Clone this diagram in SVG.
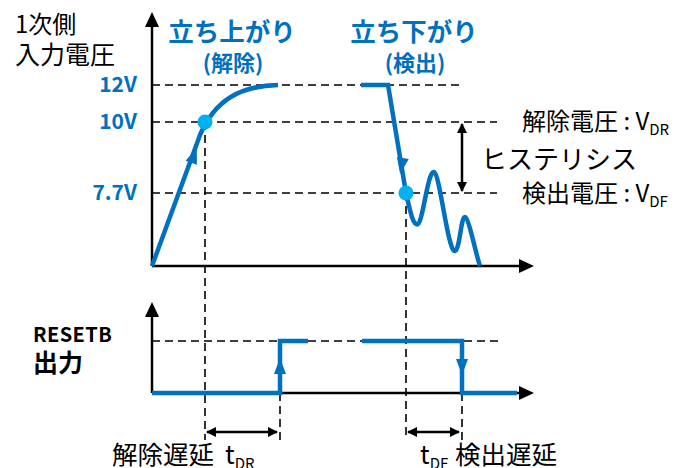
<svg xmlns="http://www.w3.org/2000/svg" width="686" height="468" viewBox="0 0 686 468">
<defs>
<style>
.t{font-family:"Noto Sans CJK JP","Noto Sans",sans-serif;fill:#000}
.b{font-family:"Noto Sans CJK JP","Noto Sans",sans-serif;font-weight:bold;fill:#0070C0}
.k{font-family:"Noto Sans CJK JP","Noto Sans",sans-serif;font-weight:bold;fill:#000}
.dash{stroke:#000;stroke-width:1.6;stroke-dasharray:8 5;fill:none}
.ax{stroke:#000;stroke-width:2.5;fill:none}
.sig{stroke:#0070C0;stroke-width:4.5;fill:none;stroke-linejoin:miter}
.ah{fill:#000}
.bh{fill:#0070C0}
</style>
<marker id="dh" viewBox="0 0 10 10" refX="9" refY="5" markerWidth="4" markerHeight="4" orient="auto-start-reverse" markerUnits="strokeWidth">
<path d="M0,0 L10,5 L0,10 z" fill="#000"/>
</marker>
</defs>
<g id="connectors">
<path class="dash" d="M152,85 H460 M152,122 H497 M152,193 H497 M205,122 V440 M406,193 V440 M152,341 H500 M280,393 V440 M462,393 V440"/>
<path class="ax" d="M152,266 V24 M152,266 H520"/>
<path class="ah" d="M152,12 L145,27 L159,27 z M534,266 L519,259 L519,273 z"/>
<path class="ax" d="M152,393 V315 M152,393 H520"/>
<path class="ah" d="M152,302 L145,317 L159,317 z M534,393 L519,386 L519,400 z"/>
<path class="sig" d="M152,266 L200,135 C215,100 240,86 278,85"/>
<path class="sig" d="M361,85 L388,85 L406,193 C410,210 413,227 418,224 C423,221 428,170 434,172 C440,174 448,253 455,251 C460,249 461,216 465,217 C469,218 476,255 480,266"/>
<polygon class="bh" points="0,-11 -6,5 6,5" transform="translate(193,158) rotate(20)"/>
<polygon class="bh" points="0,11 -6,-5 6,-5" transform="translate(402,163) rotate(10)"/>
<circle cx="205" cy="122" r="7.5" fill="#00B0F0"/>
<circle cx="406" cy="193" r="7.5" fill="#00B0F0"/>
<path d="M462,124 V191" stroke="#000" stroke-width="2.5" marker-start="url(#dh)" marker-end="url(#dh)"/>
<path class="sig" d="M152,393 L280,393 L280,341 L308,341 M362,341 L462,341 L462,393 L517,393"/>
<polygon class="bh" points="280,358 274,374 286,374"/>
<polygon class="bh" points="462,375 456,359 468,359"/>
<path d="M207,432 H277" stroke="#000" stroke-width="2.5" marker-start="url(#dh)" marker-end="url(#dh)"/>
<path d="M408,432 H459" stroke="#000" stroke-width="2.5" marker-start="url(#dh)" marker-end="url(#dh)"/>
</g>
<g id="labels">
<text class="t" x="15" y="33" font-size="24">1次側</text>
<text class="t" x="15" y="64" font-size="25">入力電圧</text>
<text class="b" x="232" y="41" font-size="25.5" text-anchor="middle">立ち上がり</text>
<text class="b" x="233" y="71" font-size="22" text-anchor="middle">(解除)</text>
<text class="b" x="414" y="41" font-size="25.5" text-anchor="middle">立ち下がり</text>
<text class="b" x="415" y="71" font-size="22" text-anchor="middle">(検出)</text>
<text class="b" x="137" y="92" font-size="21" text-anchor="end">12V</text>
<text class="b" x="137" y="129" font-size="21" text-anchor="end">10V</text>
<text class="b" x="137" y="200" font-size="21" text-anchor="end">7.7V</text>
<text class="t" x="522" y="130" font-size="24">解除電圧 : V<tspan font-size="15" dy="5">DR</tspan></text>
<text class="t" x="481" y="169" font-size="26">ヒステリシス</text>
<text class="t" x="522" y="202" font-size="24">検出電圧 : V<tspan font-size="15" dy="5">DF</tspan></text>
<text class="k" x="33" y="342" font-size="20" letter-spacing="0.4">RESETB</text>
<text class="k" x="33" y="372" font-size="25">出力</text>
<text class="t" x="112" y="464" font-size="25.5">解除遅延<tspan x="225">t</tspan><tspan font-size="15" dy="5">DR</tspan></text>
<text class="t" x="420" y="464" font-size="25.5">t<tspan font-size="15" dy="5">DF</tspan><tspan x="455" dy="-5">検出遅延</tspan></text>
</g>
</svg>
